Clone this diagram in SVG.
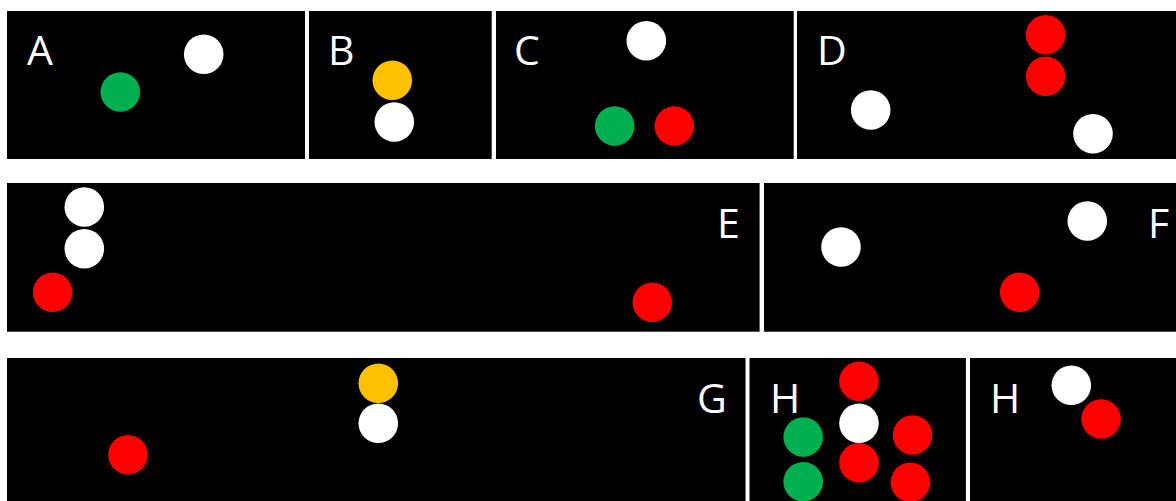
<svg xmlns="http://www.w3.org/2000/svg" width="1176" height="501" viewBox="0 0 1176 501">
<style>
.p{fill:#000}
.l{font-family:"Open Sans","Liberation Sans",sans-serif;font-size:41px;fill:#fff}
.w{fill:#fff}.g{fill:#00B050}.y{fill:#FFC000}.r{fill:#FF0000}
</style>
<rect width="1176" height="501" fill="#fff"/>
<g id="panelA"><rect class="p" x="7" y="11" width="298" height="148"/><text class="l" x="27" y="65">A</text><circle class="w" cx="203.7" cy="54.3" r="19.8"/><circle class="g" cx="120.3" cy="92" r="19.8"/></g>
<g id="panelB"><rect class="p" x="309" y="11" width="182.7" height="148"/><text class="l" x="328" y="65">B</text><circle class="y" cx="392.3" cy="80.3" r="19.8"/><circle class="w" cx="394.3" cy="122" r="19.8"/></g>
<g id="panelC"><rect class="p" x="496" y="11" width="297.7" height="148"/><text class="l" x="514" y="65">C</text><circle class="w" cx="646.3" cy="40.7" r="19.8"/><circle class="g" cx="614.7" cy="126" r="19.8"/><circle class="r" cx="674.3" cy="126" r="19.8"/></g>
<g id="panelD"><rect class="p" x="797" y="11" width="379" height="148"/><text class="l" x="817" y="65">D</text><circle class="r" cx="1045.7" cy="34.7" r="19.8"/><circle class="r" cx="1045.7" cy="76.3" r="19.8"/><circle class="w" cx="870.7" cy="110" r="19.8"/><circle class="w" cx="1093" cy="133.7" r="19.8"/></g>
<g id="panelE"><rect class="p" x="7" y="183" width="752.6" height="148.7"/><text class="l" x="717" y="237.7">E</text><circle class="w" cx="84.3" cy="207" r="19.8"/><circle class="w" cx="84.3" cy="248.7" r="19.8"/><circle class="r" cx="52.7" cy="292.3" r="19.8"/><circle class="r" cx="652.3" cy="302.3" r="19.8"/></g>
<g id="panelF"><rect class="p" x="764" y="183" width="412" height="148.7"/><text class="l" x="1148" y="237.7">F</text><circle class="w" cx="841" cy="247" r="19.8"/><circle class="w" cx="1087.3" cy="221" r="19.8"/><circle class="r" cx="1019.7" cy="292.3" r="19.8"/></g>
<g id="panelG"><rect class="p" x="7" y="358" width="738.5" height="143"/><text class="l" x="697" y="413.3">G</text><circle class="r" cx="128" cy="454.7" r="19.8"/><circle class="y" cx="378.3" cy="383.3" r="19.8"/><circle class="w" cx="378.3" cy="423.3" r="19.8"/></g>
<g id="panelH1"><rect class="p" x="749.5" y="358" width="216.4" height="143"/><text class="l" x="770" y="413.3">H</text><circle class="r" cx="859" cy="381.3" r="19.8"/><circle class="w" cx="859" cy="423.3" r="19.8"/><circle class="r" cx="859" cy="462.7" r="19.8"/><circle class="g" cx="803.2" cy="437" r="19.8"/><circle class="g" cx="803.2" cy="481.7" r="19.8"/><circle class="r" cx="912.6" cy="435" r="19.8"/><circle class="r" cx="910.4" cy="482.3" r="19.8"/></g>
<g id="panelH2"><rect class="p" x="970" y="358" width="206" height="143"/><text class="l" x="990" y="413.3">H</text><circle class="w" cx="1071.3" cy="385.3" r="19.8"/><circle class="r" cx="1101.1" cy="419" r="19.8"/></g>
<g id="connectors"/>
</svg>
